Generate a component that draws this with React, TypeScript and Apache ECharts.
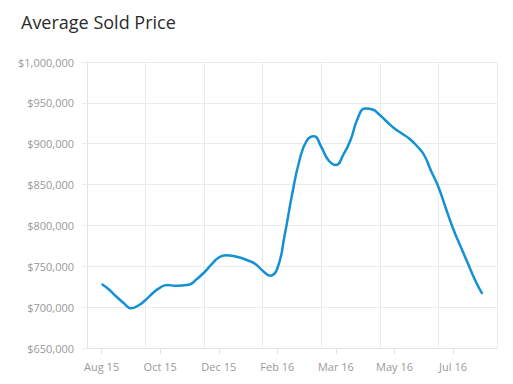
import React, { useEffect, useRef } from "react";
import * as echarts from "echarts";

// Weekly observations, starting the week of 17 Aug 2015 (category index 2)
const startDate = "2015-08-17";
const leadWeeks = 2; // empty weeks before first observation
const totalWeeks = 57; // category slots on the axis
const tickLabels = ["Aug 15", "Oct 15", "Dec 15", "Feb 16", "Mar 16", "May 16", "Jul 16"];
const avgPrice = [
  728300, 721600, 713000, 705100, 698700, 702000, 708700, 717300, 724000, 727100,
  726200, 726500, 727700, 734400, 742400, 752200, 760800, 763400, 762600, 760400,
  757100, 752800, 744600, 738500, 747300, 788300, 837200, 878800, 903500, 909000,
  896000, 879500, 874000, 886200, 904500, 931500, 943100, 941900, 935100, 926600,
  918600, 912500, 906400, 897800, 886800, 866600, 847000, 821300, 796200, 774800,
  754000, 733200, 716100,
];
const yMin = 650000;
const yMax = 1000000;
const yStep = 50000;

export default function App() {
  const ref = useRef<HTMLDivElement>(null);
  useEffect(() => {
    if (!ref.current) return;
    const chart = echarts.init(ref.current, null, { renderer: "svg" });
    const t0 = new Date(startDate + "T00:00:00Z").getTime();
    const categories: string[] = [];
    for (let i = 0; i < totalWeeks; i++) {
      const d = new Date(t0 + (i - leadWeeks) * 7 * 86400000);
      categories.push(d.toISOString().slice(0, 10));
    }
    const data: (number | null)[] = categories.map((_, i) => {
      const k = i - leadWeeks;
      return k >= 0 && k < avgPrice.length ? avgPrice[k] : null;
    });
    const isLabel = (i: number) => i >= leadWeeks && (i - leadWeeks) % 8 === 0 && (i - leadWeeks) / 8 < tickLabels.length;
    const gridColor = "#ebebeb";
    chart.setOption({
      animation: false,
      title: {
        text: "Average Sold Price",
        left: 16,
        top: 8,
        textStyle: {
          fontFamily: "Open Sans",
          fontSize: 18,
          fontWeight: "normal",
          color: "#2b2b2b",
        },
      },
      grid: { left: 87, right: 16, top: 62, bottom: 36 },
      xAxis: {
        type: "category",
        data: categories,
        boundaryGap: false,
        axisLine: { show: true, lineStyle: { color: "#e3e3e3", width: 1 } },
        axisTick: {
          show: true,
          length: 6,
          interval: (i: number) => isLabel(i),
          lineStyle: { color: "#e3e3e3" },
        },
        axisLabel: {
          interval: (i: number) => isLabel(i),
          formatter: (_v: string, i: number) => tickLabels[(i - leadWeeks) / 8] ?? "",
          color: "#999999",
          fontFamily: "Open Sans",
          fontSize: 11,
          margin: 13,
        },
        splitLine: {
          show: true,
          interval: (i: number) => i % 8 === 0,
          lineStyle: { color: gridColor, width: 1 },
        },
      },
      yAxis: {
        type: "value",
        min: yMin,
        max: yMax,
        interval: yStep,
        axisLine: { show: true, lineStyle: { color: "#e3e3e3" } },
        axisTick: { show: true, length: 5, lineStyle: { color: gridColor } },
        axisLabel: {
          formatter: (v: number) => "$" + v.toLocaleString("en-US"),
          color: "#999999",
          fontFamily: "Open Sans",
          fontSize: 11,
          margin: 13,
        },
        splitLine: { show: true, lineStyle: { color: gridColor, width: 1 } },
      },
      series: [
        {
          type: "line",
          data,
          smooth: true,
          showSymbol: false,
          connectNulls: false,
          lineStyle: { color: "#1490d5", width: 2.5 },
          itemStyle: { color: "#1490d5" },
        },
      ],
    });
    return () => chart.dispose();
  }, []);
  return <div ref={ref} style={{ width: 513, height: 384, marginLeft: -8, marginTop: -8 }} />;
}
